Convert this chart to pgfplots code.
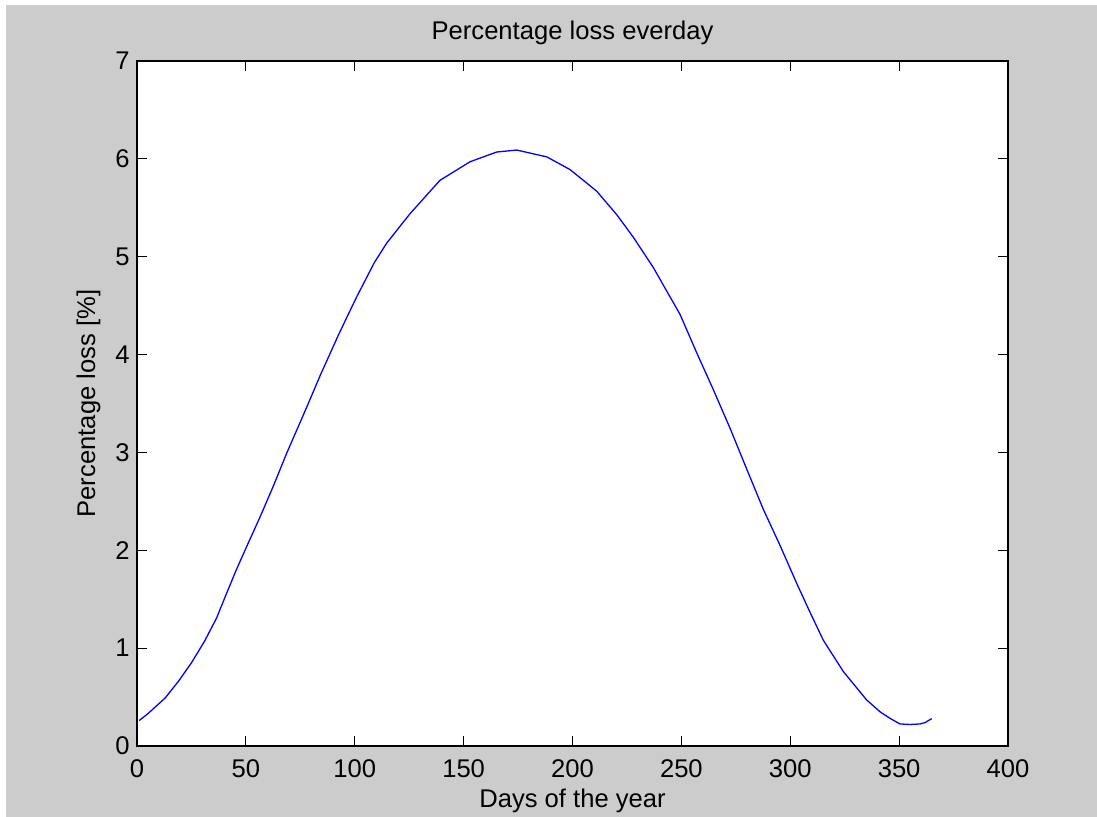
\documentclass[border=0pt]{standalone}
\usepackage{pgfplots}
\pgfplotsset{compat=1.18}
\usepackage{fontspec}
\setmainfont{Liberation Sans}
\definecolor{figgray}{RGB}{204,204,204}
\definecolor{lineblue}{RGB}{0,0,255}

\pgfplotstableread{
day loss
1 0.26
5 0.33
12.9 0.49
19 0.66
25 0.85
31 1.07
36.6 1.31
40.4 1.52
45.8 1.81
50 2.02
56.5 2.34
62.5 2.65
68.7 2.99
77.9 3.46
84.0 3.78
92.5 4.20
97 4.41
100.9 4.59
103.9 4.72
109 4.94
114.7 5.14
125.4 5.44
139.1 5.78
152.9 5.97
165.2 6.07
174.4 6.09
188.2 6.02
198.9 5.89
211.1 5.67
220.3 5.43
227.9 5.20
237.1 4.89
249.4 4.41
257.0 4.02
264.7 3.64
272.3 3.25
280.0 2.83
287.6 2.42
295.3 2.05
303.0 1.66
309 1.37
315.2 1.08
324.4 0.76
335.1 0.47
341.2 0.35
346 0.28
350.4 0.225
355 0.22
359.6 0.225
362 0.24
364.2 0.27
365 0.28
}\lossdata

\begin{document}
\begin{tikzpicture}
% figure background, 1px = 0.5pt
\useasboundingbox (0,0) rectangle (548.5pt,408.5pt);
\fill[white] (0,0) rectangle (548.5pt,408.5pt);
\fill[figgray] (3pt,0) rectangle (548.5pt,406pt);
\begin{axis}[
  at={(68.5pt,35.5pt)}, anchor=south west,
  scale only axis, width=435.5pt, height=342.5pt,
  axis background/.style={fill=white},
  xmin=0, xmax=400, ymin=0, ymax=7,
  xtick={0,50,...,400}, ytick={0,1,...,7},
  tick align=inside, major tick length=5pt,
  axis line style={black, line width=0.6pt},
  every tick/.style={black, line width=0.6pt},
  font=\fontsize{12.8}{15}\selectfont,
  /pgf/number format/assume math mode=true,
  xticklabel style={anchor=base, yshift=-16pt},
  yticklabel style={anchor=east, inner sep=0pt, xshift=-3.5pt},
  every axis title shift=0pt,
  title={Percentage loss everday},
  title style={at={(axis description cs:0.5,1)}, anchor=base, yshift=10.5pt, inner sep=0pt},
  xlabel={Days of the year},
  xlabel style={at={(axis description cs:0.5,0)}, anchor=base, yshift=-31pt, inner sep=0pt},
  ylabel={Percentage loss [\%]},
  ylabel style={at={(axis description cs:0,0.5)}, rotate=0, anchor=base, yshift=21pt, inner sep=0pt},
  clip=false,
]
\addplot[lineblue, line width=0.65pt] table[x=day, y=loss] {\lossdata};
\end{axis}
\end{tikzpicture}
\end{document}
